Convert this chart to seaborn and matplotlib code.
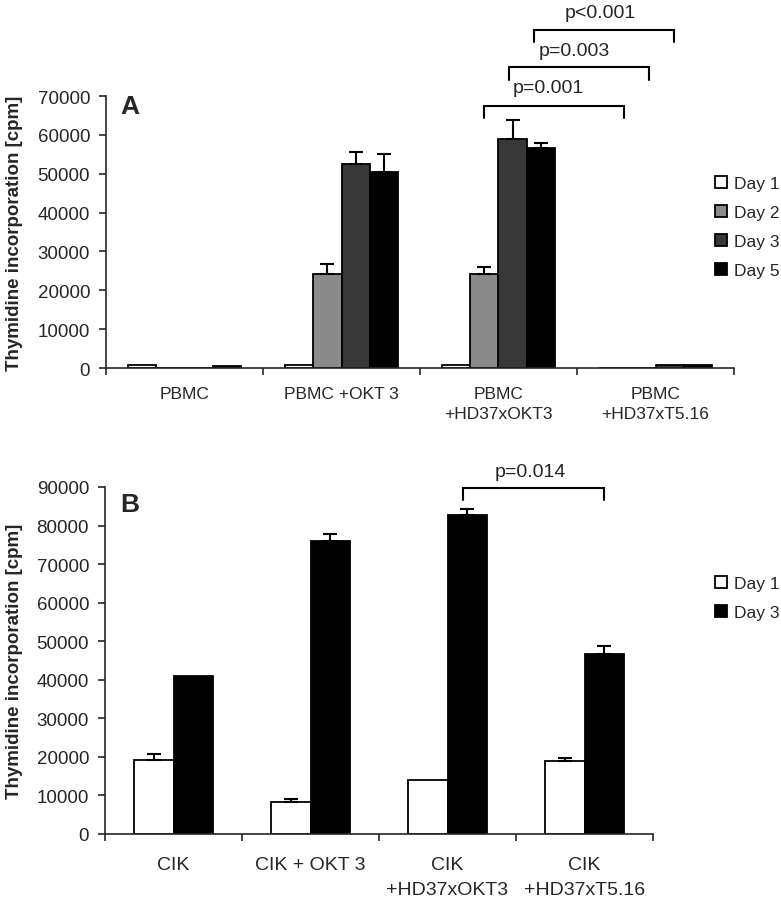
import numpy as np
import pandas as pd
import seaborn as sns
import matplotlib
matplotlib.use("Agg")
import matplotlib.pyplot as plt
from matplotlib.ticker import FixedLocator, NullFormatter
from matplotlib.container import BarContainer

# ---------------- data ----------------
groups_a = ["PBMC", "PBMC +OKT 3", "PBMC\n+HD37xOKT3", "PBMC\n+HD37xT5.16"]
days_a = ["Day 1", "Day 2", "Day 3", "Day 5"]
a_day1 = [700, 650, 650, 0]
a_day2 = [0, 24300, 24300, 0]
a_day3 = [0, 52400, 58900, 700]
a_day5 = [600, 50400, 56500, 700]
a_day1_err = [0, 0, 0, 0]
a_day2_err = [0, 2500, 1600, 0]
a_day3_err = [0, 3100, 5000, 0]
a_day5_err = [0, 4800, 1500, 0]
colors_a = ["#ffffff", "#8a8a8a", "#383838", "#000000"]

groups_b = ["CIK", "CIK + OKT 3", "CIK\n+HD37xOKT3", "CIK\n+HD37xT5.16"]
days_b = ["Day 1", "Day 3"]
b_day1 = [19300, 8200, 14000, 18900]
b_day3 = [40900, 76000, 82700, 46600]
b_day1_err = [1400, 1000, 0, 800]
b_day3_err = [0, 1700, 1600, 2100]
colors_b = ["#ffffff", "#000000"]

# significance brackets: (x left, x right, y top, y leg end, text x, text y, label)
brackets_a = [(1.908, 2.799, 67400, 64300, 2.315, 72300, "p=0.001"),
              (2.067, 2.959, 77500, 74100, 2.481, 81800, "p=0.003"),
              (2.226, 3.118, 87000, 83900, 2.646, 91600, "p<0.001")]
brackets_b = [(2.113, 3.142, 89700, 86600, 2.602, 94100, "p=0.014")]

# ---------------- style ----------------
sns.set_style("ticks")
FONT = "Liberation Sans"
plt.rcParams["font.family"] = [FONT, "DejaVu Sans"]
plt.rcParams["axes.linewidth"] = 1.2

W, H = 781, 904
fig = plt.figure(figsize=(W / 100, H / 100), dpi=100)

def make_df(groups, days, vals, errs):
    rows = []
    for d, v, e in zip(days, vals, errs):
        for g, vv, ee in zip(groups, v, e):
            rows.append({"group": g, "day": d, "value": vv, "err": ee})
    return pd.DataFrame(rows)

def panel(px, groups, days, vals, errs, colors, ymax, letter, brackets, width,
          legend_y, xfs, lab_ls, xpad, letter_base):
    left, right, top, bottom = px
    ax = fig.add_axes([left / W, 1 - bottom / H, (right - left) / W, (bottom - top) / H])
    df = make_df(groups, days, vals, errs)
    sns.barplot(data=df, x="group", y="value", hue="day", order=groups,
                hue_order=days, palette=colors, width=width, errorbar=None,
                edgecolor="black", linewidth=1.3, ax=ax, legend=True)
    bars = [c for c in ax.containers if isinstance(c, BarContainer)]
    for ci, cont in enumerate(bars):
        xs = [p.get_x() + p.get_width() / 2 for p in cont.patches]
        hs = [p.get_height() for p in cont.patches]
        e = errs[ci]
        xe = [x for x, ee in zip(xs, e) if ee > 0]
        he = [h for h, ee in zip(hs, e) if ee > 0]
        ee_ = [ee for ee in e if ee > 0]
        if xe:
            ax.errorbar(xe, he, yerr=[np.zeros(len(ee_)), ee_], fmt="none",
                        ecolor="black", elinewidth=1.5, capsize=4.7, capthick=1.5)
    ax.set_xlim(-0.5, len(groups) - 0.5)
    ax.set_ylim(0, ymax)
    ticks = np.arange(0, ymax + 1, 10000)
    ax.set_yticks(ticks)
    ax.set_yticklabels([f"{int(v)}" for v in ticks])
    ax.tick_params(axis="y", labelsize=13.5, length=5, width=1.2, direction="out", pad=6.5)
    ax.set_xticks(range(len(groups)))
    ax.set_xticklabels(groups, fontsize=xfs, linespacing=lab_ls, va="top")
    ax.tick_params(axis="x", which="major", length=0, pad=xpad)
    ax.xaxis.set_minor_locator(FixedLocator(np.arange(-0.5, len(groups), 1.0)))
    ax.xaxis.set_minor_formatter(NullFormatter())
    ax.tick_params(axis="x", which="minor", length=5, width=1.2, direction="out")
    ax.set_xlabel("")
    ax.set_ylabel("")
    fig.text(15 / W, 1 - (top + bottom) / 2 / H, "Thymidine incorporation [cpm]",
             rotation=90, ha="center", va="center", fontsize=13.5, fontweight="bold")
    sns.despine(ax=ax)
    ax.text(120 / W, 1 - letter_base / H, letter, transform=fig.transFigure,
            fontsize=19, fontweight="bold", va="baseline", ha="left")
    # legend
    handles, labels = ax.get_legend_handles_labels()
    if ax.get_legend() is not None:
        ax.get_legend().remove()
    fig.legend(handles, labels, loc="upper left",
               bbox_to_anchor=(715 / W, 1 - legend_y / H), frameon=False,
               fontsize=12.5, handlelength=0.7, handleheight=0.7,
               handletextpad=0.4, labelspacing=0.8, borderpad=0, borderaxespad=0)
    # brackets
    for x0, x1, y, yb, xt, yt, lab in brackets:
        ax.plot([x0, x0, x1, x1], [yb, y, y, yb], color="black", lw=1.5,
                clip_on=False, solid_joinstyle="miter")
        ax.text(xt, yt, lab, ha="center", va="center", fontsize=14, clip_on=False)
    return ax

panel((106, 734, 97, 369), groups_a, days_a, [a_day1, a_day2, a_day3, a_day5],
      [a_day1_err, a_day2_err, a_day3_err, a_day5_err], colors_a, 70000, "A",
      brackets_a, 0.72, 177, 12.5, 1.42, 13, 114)
panel((105, 653, 488, 835), groups_b, days_b, [b_day1, b_day3],
      [b_day1_err, b_day3_err], colors_b, 90000, "B", brackets_b, 0.57, 577,
      14, 1.62, 16, 512)

fig.savefig("out.png", dpi=100)
